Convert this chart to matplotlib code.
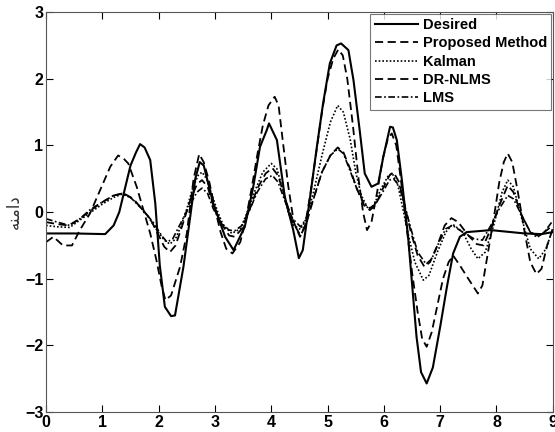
import matplotlib.pyplot as plt

# Desired signal
x_des = [0, 0.5, 1.05, 1.2, 1.3, 1.4, 1.5, 1.6, 1.67, 1.75, 1.85, 1.94, 2.02, 2.11, 2.22, 2.29, 2.44, 2.56,
         2.65, 2.73, 2.8, 2.97, 3.18, 3.33, 3.53, 3.68, 3.8, 3.92, 3.96, 4.1, 4.24, 4.39, 4.49, 4.56, 4.69,
         4.81, 4.92, 5.04, 5.16, 5.24, 5.37, 5.46, 5.57, 5.66, 5.78, 5.9, 5.99, 6.11, 6.16, 6.23, 6.32, 6.43,
         6.58, 6.66, 6.76, 6.87, 7.0, 7.12, 7.23, 7.35, 7.47, 7.9, 8.5, 8.8, 9.0]
y_des = [-0.32, -0.32, -0.33, -0.2, 0.0, 0.35, 0.7, 0.9, 1.02, 0.97, 0.78, 0.13, -0.8, -1.42, -1.56, -1.55, -0.82, -0.07,
         0.5, 0.75, 0.7, 0.13, -0.37, -0.57, -0.22, 0.38, 0.98, 1.23, 1.33, 1.08, 0.23, -0.27, -0.69, -0.57, 0.23,
         0.98, 1.63, 2.23, 2.5, 2.53, 2.43, 1.98, 1.23, 0.58, 0.38, 0.43, 0.83, 1.28, 1.27, 1.08, 0.48, -0.37,
         -1.87, -2.4, -2.57, -2.33, -1.72, -1.12, -0.62, -0.37, -0.3, -0.27, -0.32, -0.33, -0.3]

# Proposed method
x_prop = [0, 0.13, 0.3, 0.46, 0.6, 0.78, 0.96, 1.14, 1.28, 1.38, 1.46, 1.61, 1.73, 1.85, 1.96, 2.05, 2.12, 2.22,
          2.38, 2.5, 2.62, 2.72, 2.8, 2.9, 3.0, 3.1, 3.2, 3.31, 3.45, 3.55, 3.65, 3.75, 3.85, 3.95, 4.06, 4.13,
          4.2, 4.3, 4.4, 4.51, 4.6, 4.7, 4.8, 4.9, 5.0, 5.1, 5.19, 5.27, 5.35, 5.45, 5.55, 5.63, 5.7, 5.78,
          5.88, 5.98, 6.07, 6.14, 6.22, 6.3, 6.4, 6.5, 6.6, 6.68, 6.76, 6.85, 6.95, 7.05, 7.15, 7.23, 7.35,
          7.5, 7.67, 7.75, 7.85, 7.95, 8.05, 8.13, 8.2, 8.28, 8.38, 8.5, 8.6, 8.71, 8.8, 8.9, 9.0]
y_prop = [-0.45, -0.37, -0.5, -0.5, -0.27, -0.02, 0.33, 0.68, 0.85, 0.8, 0.73, 0.38, 0.03, -0.32, -0.72, -1.1, -1.32, -1.25,
          -0.82, -0.32, 0.5, 0.87, 0.75, 0.45, 0.05, -0.3, -0.55, -0.62, -0.45, -0.1, 0.35, 0.85, 1.3, 1.6, 1.73, 1.6,
          1.1, 0.4, -0.15, -0.37, -0.2, 0.3, 0.9, 1.5, 2.0, 2.3, 2.44, 2.35, 2.0, 1.3, 0.5, 0.0, -0.27, -0.15,
          0.3, 0.8, 1.1, 1.18, 1.0, 0.5, -0.2, -0.9, -1.5, -1.9, -2.02, -1.8, -1.4, -1.0, -0.75, -0.65, -0.8,
          -1.0, -1.22, -1.1, -0.6, -0.1, 0.45, 0.75, 0.88, 0.75, 0.3, -0.3, -0.75, -0.93, -0.85, -0.5, -0.25]

# Kalman
x_kal = [0, 0.2, 0.42, 0.6, 0.8, 1.0, 1.2, 1.35, 1.5, 1.65, 1.8, 1.95, 2.1, 2.2, 2.3, 2.4, 2.5, 2.6, 2.7, 2.77,
         2.85, 2.95, 3.05, 3.15, 3.3, 3.45, 3.55, 3.7, 3.85, 4.0, 4.1, 4.2, 4.3, 4.4, 4.52, 4.62, 4.75, 4.9,
         5.05, 5.18, 5.28, 5.4, 5.5, 5.6, 5.72, 5.82, 5.95, 6.08, 6.15, 6.25, 6.35, 6.45, 6.55, 6.7, 6.8, 6.95,
         7.1, 7.22, 7.4, 7.55, 7.67, 7.8, 7.95, 8.1, 8.2, 8.3, 8.45, 8.6, 8.75, 8.88, 9.0]
y_kal = [-0.2, -0.22, -0.23, -0.12, 0.0, 0.12, 0.22, 0.27, 0.22, 0.1, -0.05, -0.25, -0.42, -0.48, -0.4, -0.2, 0.05, 0.35, 0.55, 0.6,
         0.5, 0.25, 0.0, -0.2, -0.32, -0.25, -0.05, 0.3, 0.6, 0.73, 0.65, 0.35, 0.0, -0.2, -0.26, -0.1, 0.3, 0.85,
         1.35, 1.6, 1.5, 1.1, 0.6, 0.25, 0.05, 0.1, 0.35, 0.55, 0.58, 0.4, 0.0, -0.4, -0.75, -1.02, -0.95, -0.6,
         -0.3, -0.18, -0.3, -0.55, -0.7, -0.6, -0.2, 0.3, 0.48, 0.38, -0.1, -0.55, -0.7, -0.55, -0.25]

# DR-NLMS
x_dr = [0, 0.2, 0.4, 0.6, 0.8, 1.0, 1.2, 1.38, 1.55, 1.7, 1.85, 2.0, 2.1, 2.2, 2.3, 2.42, 2.55, 2.68, 2.77, 2.87,
        2.97, 3.1, 3.25, 3.35, 3.48, 3.6, 3.75, 3.9, 4.02, 4.12, 4.25, 4.38, 4.52, 4.62, 4.75, 4.9, 5.05, 5.18,
        5.28, 5.4, 5.52, 5.65, 5.75, 5.85, 5.98, 6.1, 6.17, 6.27, 6.37, 6.48, 6.6, 6.72, 6.82, 6.95, 7.08, 7.2,
        7.32, 7.5, 7.65, 7.77, 7.9, 8.05, 8.2, 8.3, 8.45, 8.6, 8.72, 8.85, 9.0]
y_dr = [-0.15, -0.18, -0.2, -0.1, 0.03, 0.15, 0.25, 0.28, 0.2, 0.05, -0.1, -0.35, -0.52, -0.6, -0.5, -0.2, 0.15, 0.42, 0.48, 0.38,
        0.1, -0.15, -0.35, -0.37, -0.25, 0.0, 0.35, 0.58, 0.66, 0.55, 0.2, -0.15, -0.35, -0.18, 0.2, 0.6, 0.85, 0.97,
        0.9, 0.65, 0.35, 0.1, 0.03, 0.1, 0.35, 0.55, 0.6, 0.45, 0.1, -0.3, -0.65, -0.82, -0.75, -0.5, -0.2, -0.09,
        -0.15, -0.35, -0.48, -0.5, -0.25, 0.1, 0.4, 0.3, -0.05, -0.3, -0.35, -0.3, -0.2]

# LMS
x_lms = [0, 0.2, 0.42, 0.6, 0.8, 1.0, 1.2, 1.35, 1.5, 1.7, 1.9, 2.05, 2.15, 2.25, 2.4, 2.55, 2.68, 2.77, 2.87,
         2.97, 3.1, 3.25, 3.35, 3.48, 3.6, 3.75, 3.9, 4.02, 4.12, 4.25, 4.38, 4.52, 4.62, 4.75, 4.9, 5.05, 5.18,
         5.28, 5.4, 5.52, 5.65, 5.75, 5.85, 5.98, 6.1, 6.17, 6.27, 6.37, 6.48, 6.6, 6.75, 6.85, 6.98, 7.1, 7.22,
         7.4, 7.6, 7.75, 7.9, 8.05, 8.2, 8.3, 8.45, 8.6, 8.72, 8.85, 9.0]
y_lms = [-0.1, -0.15, -0.2, -0.1, 0.05, 0.15, 0.25, 0.28, 0.22, 0.05, -0.15, -0.35, -0.45, -0.4, -0.15, 0.1, 0.3, 0.36, 0.28,
         0.05, -0.15, -0.27, -0.28, -0.2, 0.0, 0.3, 0.5, 0.55, 0.45, 0.15, -0.1, -0.22, -0.1, 0.2, 0.6, 0.85, 0.95,
         0.88, 0.62, 0.35, 0.12, 0.06, 0.12, 0.3, 0.48, 0.5, 0.4, 0.1, -0.25, -0.6, -0.78, -0.7, -0.45, -0.25, -0.2,
         -0.3, -0.4, -0.42, -0.2, 0.05, 0.25, 0.2, -0.05, -0.3, -0.38, -0.3, -0.13]

plt.rcParams["font.family"] = ["Liberation Sans", "DejaVu Sans"]
plt.rcParams["font.weight"] = "bold"

fig = plt.figure(figsize=(5.55, 4.32), dpi=100)
ax = fig.add_axes([0.083, 0.046, 0.913, 0.926])

ax.plot(x_des, y_des, color="black", linestyle="-", linewidth=1.5, label="Desired")
ax.plot(x_prop, y_prop, color="black", linestyle=(0, (4.5, 2.5)), linewidth=1.3, label="Proposed Method")
ax.plot(x_kal, y_kal, color="black", linestyle=(0, (1, 1.2)), linewidth=1.2, label="Kalman")
ax.plot(x_dr, y_dr, color="black", linestyle=(0, (4.5, 2.5)), linewidth=1.3, label="DR-NLMS")
ax.plot(x_lms, y_lms, color="black", linestyle=(0, (4, 1.5, 1, 1.5)), linewidth=1.2, label="LMS")

ax.set_xlim(0, 9)
ax.set_ylim(-3, 3)
ax.set_xticks(range(0, 10))
ax.set_yticks(range(-3, 4))
ax.tick_params(direction="in", top=True, right=True, length=5, labelsize=11.5, width=0.8, pad=2)
for s in ax.spines.values():
    s.set_linewidth(0.8)
    s.set_color("#555555")

# Persian label "دامنه", shaped with presentation forms for left-to-right drawing
ax.set_ylabel("\ufeea\ufee8\ufee3\ufe8d\ufea9", fontsize=12, fontweight="normal",
              family=["DejaVu Sans"], color="#333333")
ax.yaxis.set_label_coords(-0.045, 0.5)

leg = ax.legend(loc="upper right", fontsize=10.5, frameon=True, fancybox=False,
                handlelength=3.0, handletextpad=0.3, borderaxespad=0.1,
                labelspacing=0.3, borderpad=0.3)
leg.get_frame().set_edgecolor("#555555")
leg.get_frame().set_linewidth(0.8)

fig.savefig("out.png", dpi=100)
